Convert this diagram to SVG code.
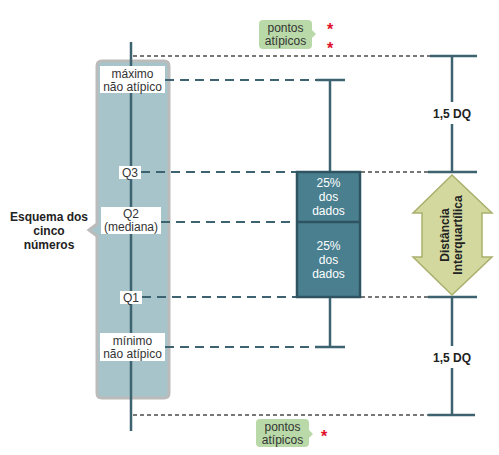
<svg xmlns="http://www.w3.org/2000/svg" width="499" height="455" viewBox="0 0 499 455">
<style>
.t{font-family:"Liberation Sans",Arial,sans-serif;font-size:12px;fill:#333;text-anchor:middle}
.b{font-weight:bold;fill:#222}
.w{fill:#fff}
.dash{stroke:#3d6370;stroke-width:2;stroke-dasharray:9 6;fill:none}
.dot{stroke:#777;stroke-width:2;stroke-dasharray:4 3;fill:none}
.ln{stroke:#3d6370;stroke-width:2.5;fill:none}
.lbl{fill:#fff}
.call{fill:#b9d9a8}
.ast{font-family:"Liberation Sans",Arial,sans-serif;font-size:16px;font-weight:bold;fill:#e0102a;text-anchor:middle}
</style>
<rect width="499" height="455" fill="#fff"/>
<g id="panel">
<path d="M102,61 H164 Q169,61 169,66 V393 Q169,398 164,398 H102 Q97,398 97,393 V236 L89,230 L97,224 V66 Q97,61 102,61 Z" fill="#a6c4c9" stroke="#bbb" stroke-width="3"/>
</g>
<g id="esquema">
<text class="t b" x="49" y="221" font-size="13">Esquema dos</text>
<text class="t b" x="49" y="235" font-size="13">cinco</text>
<text class="t b" x="49" y="249" font-size="13">números</text>
</g>
<g id="connectors">
<line class="ln" x1="131" y1="42" x2="131" y2="431"/>
<path class="dot" d="M133,56 H430"/>
<path class="dot" d="M133,415 H428"/>
<path class="dot" d="M361,172 H428"/>
<path class="dot" d="M361,297 H428"/>
<path class="dash" d="M165,80 H316"/>
<path class="dash" d="M141,172 H297"/>
<path class="dash" d="M161,222 H297"/>
<path class="dash" d="M142,297 H297"/>
<path class="dash" d="M165,347 H316"/>
</g>
<g id="labels">
<rect class="lbl" x="100" y="66" width="65" height="27"/>
<text class="t" x="132.5" y="78">máximo</text>
<text class="t" x="132.5" y="91">não atípico</text>
<rect class="lbl" x="119" y="166" width="22" height="13"/>
<text class="t" x="130" y="177">Q3</text>
<rect class="lbl" x="101" y="207" width="60" height="27"/>
<text class="t" x="131" y="218">Q2</text>
<text class="t" x="131" y="231">(mediana)</text>
<rect class="lbl" x="120" y="291" width="22" height="13"/>
<text class="t" x="131" y="302">Q1</text>
<rect class="lbl" x="100" y="333" width="65" height="28"/>
<text class="t" x="132.5" y="345">mínimo</text>
<text class="t" x="132.5" y="358">não atípico</text>
</g>
<g id="boxplot">
<line class="ln" x1="330" y1="80" x2="330" y2="172"/>
<line class="ln" x1="330" y1="297" x2="330" y2="347"/>
<line class="ln" x1="316" y1="80" x2="345" y2="80"/>
<line class="ln" x1="315" y1="347" x2="345" y2="347"/>
<rect x="297" y="172" width="63" height="125" fill="#4a7f8f" stroke="#2f5461" stroke-width="2.5"/>
<line x1="297" y1="222" x2="360" y2="222" stroke="#2f5461" stroke-width="2.5"/>
<text class="t w" x="328.5" y="187">25%</text>
<text class="t w" x="328.5" y="201">dos</text>
<text class="t w" x="328.5" y="215">dados</text>
<text class="t w" x="328.5" y="250">25%</text>
<text class="t w" x="328.5" y="264">dos</text>
<text class="t w" x="328.5" y="278">dados</text>
</g>
<g id="scale">
<line class="ln" x1="430" y1="56" x2="477" y2="56"/>
<line class="ln" x1="428" y1="172" x2="477" y2="172"/>
<line class="ln" x1="428" y1="297" x2="477" y2="297"/>
<line class="ln" x1="428" y1="415" x2="475" y2="415"/>
<line class="ln" x1="452" y1="56" x2="452" y2="102"/>
<line class="ln" x1="452" y1="124" x2="452" y2="172"/>
<line class="ln" x1="452" y1="297" x2="452" y2="346"/>
<line class="ln" x1="452" y1="368" x2="452" y2="415"/>
<text class="t b" x="452" y="118" font-size="14">1,5 DQ</text>
<text class="t b" x="452" y="362" font-size="14">1,5 DQ</text>
</g>
<g id="iqr-arrow">
<path d="M452,175 L492,213 L482,213 L482,257 L492,257 L452,295 L413,257 L422,257 L422,213 L413,213 Z" fill="#d2d89e" stroke="#a9b06c" stroke-width="1.5"/>
<g transform="translate(452,235) rotate(-90)">
<text class="t b" x="0" y="-3" font-size="11" fill="#000">Distância</text>
<text class="t b" x="0" y="10" font-size="11" fill="#000">Interquartílica</text>
</g>
</g>
<g id="outliers-top">
<path d="M263,20 H308 Q312,20 312,24 V30 L316,34 L312,38 V45 Q312,49 308,49 H263 Q259,49 259,45 V24 Q259,20 263,20 Z" class="call"/>
<text class="t" x="285.5" y="32" font-size="11">pontos</text>
<text class="t" x="285.5" y="45" font-size="11">atípicos</text>
<text class="ast" x="330" y="35">*</text>
<text class="ast" x="330" y="54">*</text>
</g>
<g id="outliers-bottom">
<path d="M260,419 H305 Q309,419 309,423 V430 L313,434 L309,438 V443 Q309,447 305,447 H260 Q256,447 256,443 V423 Q256,419 260,419 Z" class="call"/>
<text class="t" x="282.5" y="431" font-size="11">pontos</text>
<text class="t" x="282.5" y="444" font-size="11">atípicos</text>
<text class="ast" x="324" y="442">*</text>
</g>
</svg>
